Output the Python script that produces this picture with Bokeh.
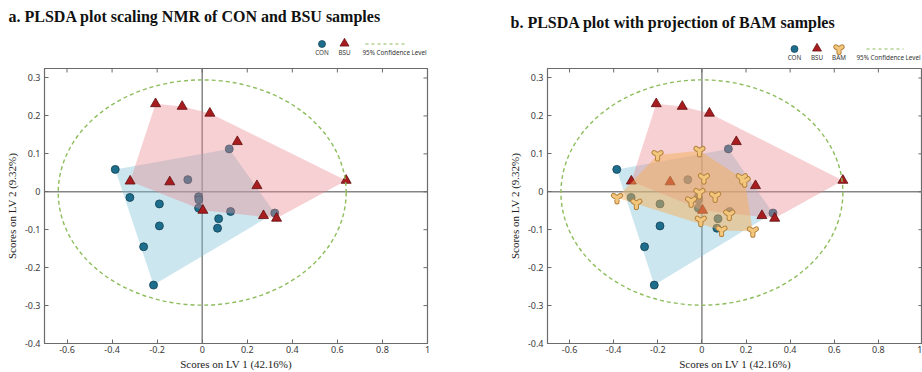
import numpy as np
from bokeh.plotting import figure
from bokeh.layouts import column, row
from bokeh.models import Range1d, Span, FixedTicker, CustomJSTickFormatter
from bokeh.core.properties import value
from bokeh.embed import file_html
from bokeh.resources import INLINE

# PLS-DA scores (LV1, LV2) per sample group
con_lv1 = [-0.386, 0.120, -0.064, -0.321, -0.190, -0.016, -0.015, -0.016, 0.126, 0.073, 0.322, -0.190, -0.260, 0.068, -0.216]
con_lv2 = [0.059, 0.113, 0.032, -0.015, -0.032, -0.013, -0.021, -0.043, -0.052, -0.071, -0.056, -0.090, -0.145, -0.096, -0.246]

bsu_lv1 = [-0.207, -0.089, 0.034, 0.156, -0.320, -0.144, 0.243, 0.639, 0.003, 0.272, 0.330]
bsu_lv2 = [0.232, 0.225, 0.207, 0.132, 0.028, 0.026, 0.016, 0.030, -0.049, -0.063, -0.070]

bam_lv1 = [-0.201, -0.011, 0.009, 0.181, 0.194, -0.385, -0.297, -0.011, 0.060, -0.049, 0.124, -0.005, 0.089, 0.231]
bam_lv2 = [0.097, 0.108, 0.036, 0.036, 0.028, -0.016, -0.031, -0.003, -0.012, -0.025, -0.060, -0.076, -0.102, -0.104]

# 95% confidence ellipse (centre, full width, full height)
ellipse_center = (0.0, -0.002)
ellipse_width = 1.278
ellipse_height = 0.594

x_ticks = [-0.6, -0.4, -0.2, 0, 0.2, 0.4, 0.6, 0.8, 1]
y_ticks = [-0.4, -0.3, -0.2, -0.1, 0, 0.1, 0.2, 0.3]
X_MIN, X_MAX = -0.7, 1.0
Y_MIN, Y_MAX = -0.4, 0.325

x_label = "Scores on LV 1 (42.16%)"
y_label = "Scores on LV 2 (9.32%)"
title_a = "a. PLSDA plot scaling NMR of CON and BSU samples"
title_b = "b. PLSDA plot with projection of BAM samples"
legend_ellipse = "95% Confidence Level"

CON_FILL, CON_LINE = "#1d6e8c", "#123f52"
BSU_FILL, BSU_LINE = "#a81c1f", "#5e0c0c"
BAM_FILL, BAM_LINE = "#f2c77c", "#b4813f"
BLUE_POLY, RED_POLY, ORANGE_POLY = "#7fc1d6", "#e98a90", "#f5b05a"
ELLIPSE_COLOR = "#8dbd5c"
FRAME_COLOR = "#6b6b6b"


def hull(xs, ys):
    """Convex hull (monotone chain) of a group's scores."""
    pts = sorted(set(zip(xs, ys)))

    def cross(o, a, b):
        return (a[0] - o[0]) * (b[1] - o[1]) - (a[1] - o[1]) * (b[0] - o[0])

    lower, upper = [], []
    for pt in pts:
        while len(lower) >= 2 and cross(lower[-2], lower[-1], pt) <= 0:
            lower.pop()
        lower.append(pt)
    for pt in reversed(pts):
        while len(upper) >= 2 and cross(upper[-2], upper[-1], pt) <= 0:
            upper.pop()
        upper.append(pt)
    ring = lower[:-1] + upper[:-1]
    return [q[0] for q in ring], [q[1] for q in ring]


def bam_marker(p, x, y, size=8):
    p.scatter(x, y, marker="y", size=size, line_color=BAM_LINE, line_width=5.2, line_cap="round", line_join="round")
    p.scatter(x, y, marker="y", size=size, line_color=BAM_FILL, line_width=3.3, line_cap="round", line_join="round")


def style_axis(ax, ticks):
    ax.ticker = FixedTicker(ticks=ticks)
    ax.formatter = CustomJSTickFormatter(code="return String(Number(tick.toFixed(2)));")
    ax.major_tick_in = 4
    ax.major_tick_out = 0
    ax.minor_tick_in = 0
    ax.minor_tick_out = 0
    ax.major_tick_line_color = FRAME_COLOR
    ax.axis_line_color = FRAME_COLOR
    ax.major_label_text_font = "Noto Sans"
    ax.major_label_text_font_size = "9px"
    ax.major_label_text_color = "#3a3a3a"
    ax.axis_label_text_font = "Liberation Serif"
    ax.axis_label_text_font_size = "11px"
    ax.axis_label_text_font_style = "normal"
    ax.axis_label_text_color = "#222222"


def score_plot(width, height, left, right, top, bottom, with_bam):
    p = figure(width=width, height=height, x_range=Range1d(X_MIN, X_MAX), y_range=Range1d(Y_MIN, Y_MAX),
               output_backend="svg", toolbar_location=None,
               min_border_left=left, min_border_right=right,
               min_border_top=top, min_border_bottom=bottom)
    p.grid.visible = False
    p.outline_line_color = FRAME_COLOR
    p.outline_line_width = 1.2

    style_axis(p.xaxis[0], x_ticks)
    style_axis(p.yaxis[0], y_ticks)
    p.xaxis.axis_label = x_label
    p.yaxis.axis_label = y_label
    p.xaxis.major_label_standoff = 2
    p.xaxis.axis_label_standoff = 2
    p.yaxis.major_label_standoff = 4
    p.yaxis.axis_label_standoff = 4

    # inward tick marks along the top and right edges of the box (half of each dash is clipped)
    p.scatter(x_ticks, [Y_MAX] * len(x_ticks), marker="dash", angle=np.pi / 2, size=8,
              line_color=FRAME_COLOR, line_width=1)
    p.scatter([X_MAX] * len(y_ticks), y_ticks, marker="dash", size=8,
              line_color=FRAME_COLOR, line_width=1)

    p.add_layout(Span(location=0, dimension="height", line_color="#858585", line_width=1.5, level="underlay"))
    p.add_layout(Span(location=0, dimension="width", line_color="#858585", line_width=1.5, level="underlay"))

    hx, hy = hull(con_lv1, con_lv2)
    p.patch(hx, hy, fill_color=BLUE_POLY, fill_alpha=0.4, line_color=None)
    p.scatter(con_lv1, con_lv2, marker="circle", size=8, fill_color=CON_FILL, line_color=CON_LINE, line_width=0.8)

    hx, hy = hull(bsu_lv1, bsu_lv2)
    p.patch(hx, hy, fill_color=RED_POLY, fill_alpha=0.4, line_color=None)
    p.scatter(bsu_lv1, bsu_lv2, marker="triangle", size=10, fill_color=BSU_FILL, line_color=BSU_LINE, line_width=0.8)

    if with_bam:
        hx, hy = hull(bam_lv1, bam_lv2)
        p.patch(hx, hy, fill_color=ORANGE_POLY, fill_alpha=0.5, line_color=None)
        bam_marker(p, bam_lv1, bam_lv2)

    p.ellipse(x=[ellipse_center[0]], y=[ellipse_center[1]], width=ellipse_width, height=ellipse_height,
              fill_color=None, line_color=ELLIPSE_COLOR, line_width=1.4, line_dash="4 3")
    return p


# Header strip: panel titles and legends, laid out in pixel space
HEAD_H = 62
head = figure(width=922, height=HEAD_H, x_range=Range1d(0, 922), y_range=Range1d(HEAD_H, 0),
              output_backend="svg", toolbar_location=None, min_border=0,
              x_axis_location=None, y_axis_location=None)
head.grid.visible = False
head.outline_line_color = None

title_font = dict(text_font=value("Liberation Serif"), text_font_style="bold", text_font_size="16px",
                  text_baseline="middle", text_align="left", text_color="#111111")
head.text(x=[8], y=[16], text=[title_a], **title_font)
head.text(x=[510], y=[22], text=[title_b], **title_font)

legend_font = dict(text_font=value("Noto Sans"), text_font_size="6.3px", text_baseline="middle",
                   text_color="#333333")


def legend(items, marker_y, label_y, dash_span, ellipse_label_x):
    for name, xpos in items:
        if name == "CON":
            head.scatter([xpos], [marker_y], marker="circle", size=7, fill_color=CON_FILL, line_color=CON_LINE, line_width=0.7)
        elif name == "BSU":
            head.scatter([xpos], [marker_y - 0.5], marker="triangle", size=9, fill_color=BSU_FILL, line_color=BSU_LINE, line_width=0.7)
        else:
            bam_marker(head, [xpos], [marker_y], size=7)
        head.text(x=[xpos], y=[label_y], text=[name], text_align="center", **legend_font)
    head.line(x=list(dash_span), y=[marker_y, marker_y], line_color=ELLIPSE_COLOR, line_width=1.2, line_dash="3 3")
    head.text(x=[ellipse_label_x], y=[label_y], text=[legend_ellipse], text_align="left", **legend_font)


legend([("CON", 321.5), ("BSU", 344)], 43.5, 51.5, (365, 407), 362)
legend([("CON", 794), ("BSU", 816.5), ("BAM", 838.5)], 48.5, 57, (866, 903), 856)

plot_h = 372 - HEAD_H
pa = score_plot(460, plot_h, left=44, right=33, top=1, bottom=28, with_bam=False)
pb = score_plot(462, plot_h, left=87, right=0, top=6, bottom=27, with_bam=True)

layout = column(head, row(pa, pb, spacing=0), spacing=0)

with open("out.html", "w") as f:
    f.write(file_html(layout, INLINE))
